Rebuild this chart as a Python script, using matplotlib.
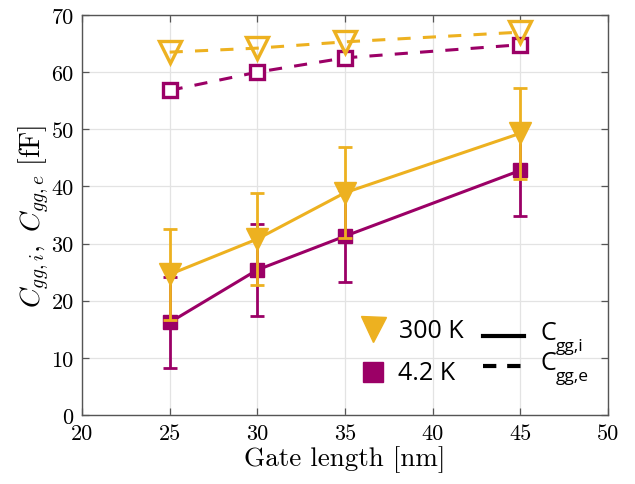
import matplotlib
matplotlib.use("Agg")
import matplotlib.pyplot as plt
from matplotlib.lines import Line2D

plt.rcParams['mathtext.fontset'] = 'cm'
plt.rcParams['axes.formatter.use_mathtext'] = True

# Gate lengths [nm]
gate_length = [25, 30, 35, 45]

# Intrinsic gate capacitance C_gg,i [fF] with error bars
cggi_300k = [24.6, 30.8, 38.9, 49.3]
cggi_4k = [16.2, 25.4, 31.3, 42.8]
err_300k = [8.0, 8.0, 8.0, 8.0]
err_4k = [8.0, 8.0, 8.0, 8.0]

# Extrinsic gate capacitance C_gg,e [fF]
cgge_300k = [63.5, 64.2, 65.3, 67.0]
cgge_4k = [56.8, 60.0, 62.5, 64.8]

xticks = [20, 25, 30, 35, 40, 45, 50]
yticks = [0, 10, 20, 30, 40, 50, 60, 70]

YELLOW = '#EDB120'
PURPLE = '#9B0066'

W, H = 635, 485
fig = plt.figure(figsize=(W / 100, H / 100), dpi=100)
ax = fig.add_axes([82 / W, 1 - 416 / H, (608 - 82) / W, (416 - 16) / H])

# Extrinsic (dashed, open markers)
ax.plot(gate_length, cgge_4k, '--', color=PURPLE, lw=2.2, dashes=(4.3, 4.0),
        marker='s', ms=10, mfc='white', mec=PURPLE, mew=2.4, zorder=3)
ax.plot(gate_length, cgge_300k, '--', color=YELLOW, lw=2.2, dashes=(4.3, 4.0),
        marker='v', ms=16, mfc='none', mec=YELLOW, mew=2.4, zorder=4)

# Intrinsic (solid, filled markers, error bars)
ax.errorbar(gate_length, cggi_4k, yerr=err_4k, color=PURPLE, lw=2.2,
            marker='s', ms=10, elinewidth=2.0, capsize=5, capthick=2.0, zorder=5)
ax.errorbar(gate_length, cggi_300k, yerr=err_300k, color=YELLOW, lw=2.2,
            marker='v', ms=16, elinewidth=2.0, capsize=5, capthick=2.0, zorder=6)

ax.set_xlim(20, 50)
ax.set_ylim(0, 70)
ax.set_xticks(xticks)
ax.set_yticks(yticks)
ax.set_xticklabels([str(t) for t in xticks], fontfamily='cmr10', fontsize=16)
ax.set_yticklabels([str(t) for t in yticks], fontfamily='cmr10', fontsize=16)
ax.grid(True, color='#e3e3e3', lw=0.9)
ax.set_axisbelow(True)
ax.tick_params(direction='in', length=5, width=0.9, color='#555555',
               top=True, right=True, pad=6)
for s in ax.spines.values():
    s.set_color('#555555')
    s.set_linewidth(1.0)

ax.set_xlabel('Gate length [nm]', fontfamily='cmr10', fontsize=19.5, labelpad=2)
ax.set_ylabel(r'$C_{gg,i},\ C_{gg,e}\ \mathrm{[fF]}$', fontsize=20, labelpad=0)


def fx(x):
    return x / W


def fy(y):
    return 1 - y / H


legend_font = ['Open Sans', 'DejaVu Sans']

# Marker key
fig.add_artist(Line2D([fx(373)], [fy(330)], transform=fig.transFigure,
                      marker='v', ms=18, color=YELLOW, ls='none'))
fig.add_artist(Line2D([fx(373)], [fy(373)], transform=fig.transFigure,
                      marker='s', ms=15, color=PURPLE, ls='none'))
fig.text(fx(399), fy(331), '300 K', fontsize=18, family=legend_font,
         va='center', ha='left')
fig.text(fx(398), fy(374), '4.2 K', fontsize=18, family=legend_font,
         va='center', ha='left')

# Line-style key
fig.add_artist(Line2D([fx(483), fx(524)], [fy(337), fy(337)],
                      transform=fig.transFigure, color='black', lw=3))
fig.add_artist(Line2D([fx(483), fx(524)], [fy(367), fy(367)],
                      transform=fig.transFigure, color='black', lw=3,
                      dashes=(3.2, 2.6)))
fig.text(fx(540), fy(334), 'C', fontsize=18, family=legend_font,
         va='center', ha='left')
fig.text(fx(556), fy(347), 'gg,i', fontsize=12.5, family=legend_font,
         va='center', ha='left')
fig.text(fx(540), fy(364), 'C', fontsize=18, family=legend_font,
         va='center', ha='left')
fig.text(fx(556), fy(377), 'gg,e', fontsize=12.5, family=legend_font,
         va='center', ha='left')

fig.savefig('out.png', dpi=100)
